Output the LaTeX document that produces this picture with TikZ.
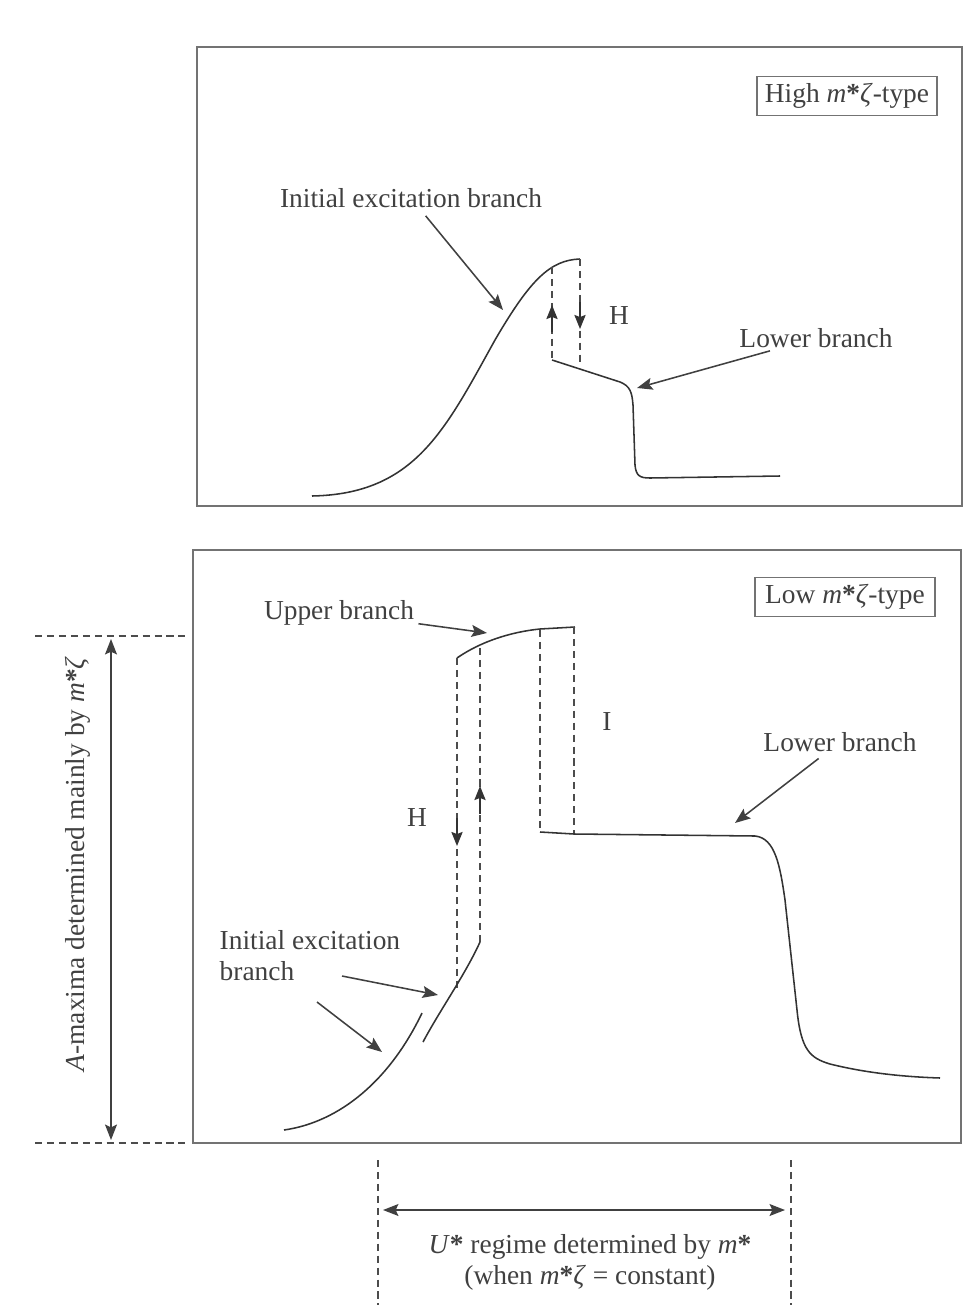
\documentclass[tikz,border=0pt]{standalone}
\usepackage{fontspec}
\setmainfont{Liberation Serif}
\usetikzlibrary{arrows.meta}
\newcommand{\mst}{\textit{m}\textbf{*}}
\begin{document}
\begin{tikzpicture}[x=0.025cm,y=-0.025cm,
  curve/.style={line width=1.1pt, draw=black!80},
  frame/.style={line width=1.2pt, draw=black!55},
  dsh/.style={line width=0.8pt, draw=black!70, dash pattern=on 5pt off 3.5pt},
  ptr/.style={line width=1.1pt, draw=black!75, -{Stealth[length=11pt,width=8.5pt,inset=2pt]}},
  tip/.style={line width=1pt, draw=black!80, -{Stealth[length=10pt,width=8pt,inset=1.5pt]}},
  dbl/.style={line width=1pt, draw=black!75, {Stealth[length=11pt,width=8.5pt,inset=2pt]}-{Stealth[length=11pt,width=8.5pt,inset=2pt]}},
  lbl/.style={font=\fontsize{19.5}{22}\selectfont, text=black!75, inner sep=1pt},
  legend/.style={lbl, draw=black!55, line width=1pt, minimum width=128pt, minimum height=28pt}]
\useasboundingbox (0,0) rectangle (972,1308);

% ---------------- top panel ----------------
\draw[frame] (197,47) rectangle (962,506);
\node[legend] (hi) at (847,96) {High \mst\textit{ζ}-type};

\draw[curve] (312,496) .. controls (415,494) and (445,430) .. (495,340)
             .. controls (530,280) and (550,260) .. (580,259);
\coordinate (tpk) at (580,259);
\coordinate (tl0) at (552,360);
\draw[dsh] (552,267) -- (tl0);
\draw[dsh] (tpk) -- (580,363);
\coordinate (tua) at (552,332); \coordinate (tub) at (552,305);
\draw[tip] (tua) -- (tub);
\coordinate (tda) at (580,302); \coordinate (tdb) at (580,329);
\draw[tip] (tda) -- (tdb);
\node[lbl] (tH) at (619,316) {H};

\draw[curve] (tl0) -- (620,382) .. controls (630,386) and (632,392) .. (633,405)
             -- (635,465) .. controls (636,476) and (640,478) .. (650,478) -- (780,476);

\node[lbl] (tie) at (411,198) {Initial excitation branch};
\coordinate (tieT) at (503,310);
\draw[ptr, shorten <=6pt] (tie) -- (tieT);

\node[lbl] (tlb) at (816,338) {Lower branch};
\coordinate (tlbT) at (637,388);
\draw[ptr, shorten <=4pt] (tlb) -- (tlbT);

% ---------------- bottom panel ----------------
\draw[frame] (193,550) rectangle (961,1143);
\node[legend] (lo) at (845,597) {Low \mst\textit{ζ}-type};

% upper branch
\draw[curve] (457,658) .. controls (480,642) and (510,632) .. (540,629) -- (575,627);
\node[lbl] (ub) at (339,613) {Upper branch};
\coordinate (ubT) at (487,633);
\draw[ptr, shorten <=2pt] (ub) -- (ubT);

% dashed jumps
\draw[dsh] (457,658) -- (457,988);
\draw[dsh] (480,648) -- (480,942);
\draw[dsh] (540,630) -- (540,832);
\draw[dsh] (574,627) -- (574,834);
\coordinate (bda) at (457,818); \coordinate (bdb) at (457,846);
\draw[tip] (bda) -- (bdb);
\coordinate (bua) at (480,814); \coordinate (bub) at (480,786);
\draw[tip] (bua) -- (bub);
\node[lbl] (bH) at (417,818) {H};
\node[lbl] (bI) at (607,722) {I};

% lower branch
\draw[curve] (540,832) -- (574,834) -- (755,836)
   .. controls (775,838) and (780,865) .. (785,900) -- (797,1010)
   .. controls (801,1050) and (810,1058) .. (830,1064)
   .. controls (870,1074) and (910,1077) .. (940,1078);
\node[lbl] (lb) at (840,742) {Lower branch};
\coordinate (lbT) at (735,823);
\draw[ptr, shorten <=6pt] (lb) -- (lbT);

% initial excitation branches
\draw[curve] (423,1042) .. controls (440,1010) and (465,975) .. (480,942);
\draw[curve] (284,1130) .. controls (340,1122) and (390,1080) .. (422,1013);
\node[lbl, align=left, anchor=north west] (bie) at (218,929) {Initial excitation\\branch};
\coordinate (bieAT) at (438,995);
\coordinate (bieBT) at (382,1052);
\draw[ptr] ([shift={(124,47)}]bie.north west) -- (bieAT);
\draw[ptr] ([shift={(99,73)}]bie.north west) -- (bieBT);

% left dimension
\coordinate (ld1) at (35,636); \coordinate (ld2) at (190,636);
\coordinate (ld3) at (35,1143); \coordinate (ld4) at (190,1143);
\draw[dsh] (ld1) -- (ld2);
\draw[dsh] (ld3) -- (ld4);
\coordinate (la) at (111,639); \coordinate (lbb) at (111,1140);
\draw[dbl] (la) -- (lbb);
\node[lbl, rotate=90] (amax) at (78,864) {\textit{A}-maxima determined mainly by \mst\textit{ζ}};

% bottom dimension
\coordinate (bd1) at (378,1160); \coordinate (bd2) at (378,1305);
\coordinate (bd3) at (791,1160); \coordinate (bd4) at (791,1305);
\draw[dsh] (bd1) -- (bd2);
\draw[dsh] (bd3) -- (bd4);
\coordinate (ha) at (383,1210); \coordinate (hb) at (785,1210);
\draw[dbl] (ha) -- (hb);
\node[lbl, align=center] (ureg) at (590,1262) {\textit{U}\textbf{*} regime determined by \mst\\(when \mst\textit{ζ} = constant)};
\end{tikzpicture}
\end{document}
